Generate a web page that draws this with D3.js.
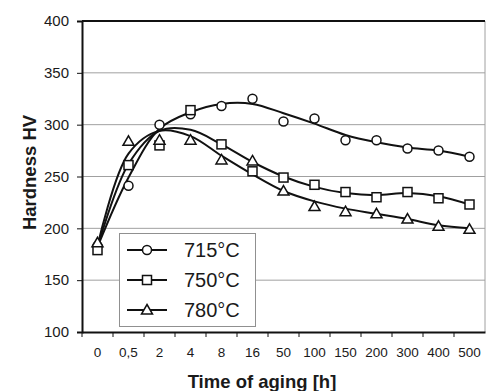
<!DOCTYPE html>
<html>
<head>
<meta charset="utf-8">
<script src="https://cdn.jsdelivr.net/npm/d3@7"></script>
<style>
  body { margin: 0; background: #fff; }
  svg text { font-family: "Liberation Sans", Arial, sans-serif; fill: #1a1a1a; }
</style>
</head>
<body>
<div id="vis"></div>
<script>
// x categories (time of aging, h)
const hours = ['0', '0,5', '2', '4', '8', '16', '50', '100', '150', '200', '300', '400', '500']
const yTicks = [100, 150, 200, 250, 300, 350, 400]

// measured hardness
const hv715 = [183, 241, 300, 310, 318, 325, 303, 306, 285, 285, 277, 275, 269]
const hv750 = [179, 261, 280, 314, 281, 255, 249, 242, 235, 230, 235, 229, 223]
const hv780 = [186, 284, 285, 285, 266, 265, 236, 221, 216, 214, 209, 202, 199]

// fitted trend lines at each category
const fit715 = [182, 249, 296, 312, 320, 320, 311, 301, 290, 283, 278, 275, 269]
const fit750 = [182, 262, 294, 295, 281, 264, 250, 240, 234, 232, 234, 231, 223]
const fit780 = [183, 272, 294, 289, 270, 252, 236, 226, 219, 214, 209, 203, 200]

const seriesNames = ['715°C', '750°C', '780°C']
const markers = ['circle', 'square', 'triangle']

const W = 486, H = 391
const margin = {left: 82, top: 21, right: 1, bottom: 59}

const svg = d3.select('#vis').append('svg')
    .attr('width', W)
    .attr('height', H)

const x = d3.scaleBand()
    .domain(hours)
    .range([margin.left, W - margin.right])
const xc = d => x(d) + x.bandwidth() / 2

const y = d3.scaleLinear()
    .domain([100, 400])
    .range([H - margin.bottom, margin.top])

// gridlines
svg.append('g')
    .selectAll('line')
    .data(yTicks.slice(1, -1))
    .enter()
    .append('line')
    .attr('x1', margin.left)
    .attr('x2', W - margin.right)
    .attr('y1', d => y(d))
    .attr('y2', d => y(d))
    .attr('stroke', '#a0a0a0')
    .attr('stroke-width', 1)

// right border (thin grey), top border (black)
svg.append('line')
    .attr('x1', W - margin.right).attr('x2', W - margin.right)
    .attr('y1', y(400)).attr('y2', y(100))
    .attr('stroke', '#a0a0a0')
svg.append('line')
    .attr('x1', margin.left).attr('x2', W - margin.right)
    .attr('y1', y(400)).attr('y2', y(400))
    .attr('stroke', '#111').attr('stroke-width', 2)

// y axis
const yAxis = svg.append('g')
    .attr('transform', `translate(${margin.left},0)`)
    .call(d3.axisLeft(y).tickValues(yTicks).tickSize(5).tickPadding(8))
yAxis.select('.domain').attr('stroke', '#111').attr('stroke-width', 2)
yAxis.selectAll('.tick line').attr('stroke', '#111').attr('stroke-width', 1)
yAxis.selectAll('text').attr('font-size', 15).attr('fill', '#1a1a1a')

// x axis, ticks at the category boundaries
const xAxis = svg.append('g')
    .attr('transform', `translate(0,${y(100)})`)
    .call(d3.axisBottom(x).tickSize(0).tickPadding(15))
xAxis.select('.domain').attr('stroke', '#111').attr('stroke-width', 2)
xAxis.selectAll('text').attr('font-size', 13.5).attr('fill', '#1a1a1a')
svg.append('g')
    .selectAll('line')
    .data(hours)
    .enter()
    .append('line')
    .attr('x1', d => x(d)).attr('x2', d => x(d))
    .attr('y1', y(100)).attr('y2', y(100) + 5)
    .attr('stroke', '#111')

// axis titles
svg.append('text')
    .attr('x', 262)
    .attr('y', 388)
    .attr('text-anchor', 'middle')
    .attr('font-size', 18.5)
    .attr('font-weight', 'bold')
    .text('Time of aging [h]')

svg.append('text')
    .attr('transform', `translate(36,${(y(100) + y(400)) / 2 - 4}) rotate(-90)`)
    .attr('text-anchor', 'middle')
    .attr('font-size', 18.5)
    .attr('font-weight', 'bold')
    .text('Hardness HV')

// trend curves
const line = d3.line()
    .x((d, i) => xc(hours[i]))
    .y(d => y(d))
    .curve(d3.curveCatmullRom.alpha(0.5))

const fits = [fit715, fit750, fit780]
svg.append('g')
    .selectAll('path')
    .data(fits)
    .enter()
    .append('path')
    .attr('d', d => line(d))
    .attr('fill', 'none')
    .attr('stroke', '#111')
    .attr('stroke-width', 2)

function drawMarker(g, type, cx, cy) {
    if (type === 'circle') {
        g.append('circle').attr('cx', cx).attr('cy', cy).attr('r', 4.5)
            .attr('fill', '#fff').attr('stroke', '#111').attr('stroke-width', 1.5)
    } else if (type === 'square') {
        g.append('rect').attr('x', cx - 4.5).attr('y', cy - 4.5)
            .attr('width', 9).attr('height', 9)
            .attr('fill', '#fff').attr('stroke', '#111').attr('stroke-width', 1.5)
    } else {
        g.append('path')
            .attr('d', `M${cx},${cy - 5.5}L${cx + 5.5},${cy + 4}L${cx - 5.5},${cy + 4}Z`)
            .attr('fill', '#fff').attr('stroke', '#111').attr('stroke-width', 1.5)
    }
}

// measured points
const points = [hv715, hv750, hv780]
const pts = svg.append('g')
points.forEach((vals, s) => {
    vals.forEach((v, i) => drawMarker(pts, markers[s], xc(hours[i]), y(v)))
})

// legend
const legend = svg.append('g')
legend.append('rect')
    .attr('x', 119.5).attr('y', 233.5)
    .attr('width', 136).attr('height', 93)
    .attr('fill', '#fff')
    .attr('stroke', '#909090')
    .attr('stroke-width', 1)
seriesNames.forEach((name, i) => {
    const ly = 250 + i * 30
    legend.append('line')
        .attr('x1', 127).attr('x2', 167)
        .attr('y1', ly).attr('y2', ly)
        .attr('stroke', '#111').attr('stroke-width', 2)
    drawMarker(legend, markers[i], 147, ly)
    legend.append('text')
        .attr('x', 184)
        .attr('y', ly + 7)
        .attr('font-size', 20)
        .text(name)
})
</script>
</body>
</html>
